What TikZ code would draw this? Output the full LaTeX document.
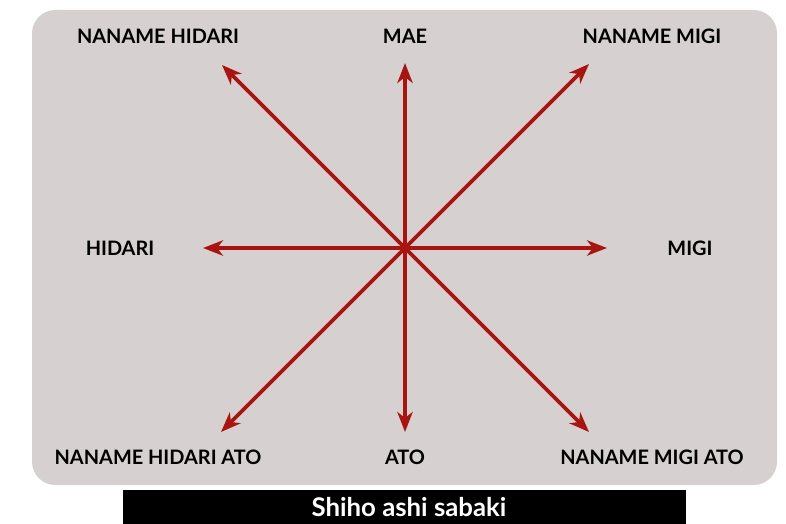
\documentclass[tikz,border=0pt]{standalone}
\usepackage{fontspec}
\setmainfont{Lato}
\usetikzlibrary{arrows.meta, positioning}
\definecolor{fond}{RGB}{214, 208, 208}
\definecolor{rouge}{RGB}{168, 20, 16}

\tikzset{
    label/.style={font=\bfseries\fontsize{17}{19}\selectfont, text=black},
    fleche/.style={rouge, line width=3.3pt, -{Stealth[length=17pt, width=13pt, inset=5pt]}}
}

\begin{document}
\begin{tikzpicture}[x=0.3mm, y=-0.3mm]
    % cadre de l'image
    \useasboundingbox (0,0) rectangle (786,524);
    \fill[fond, rounded corners=7mm] (32,10) rectangle (777,485);

    % bande noire du titre
    \fill[black] (123,490) rectangle (686,524);
    \node[font=\bfseries\fontsize{22}{24}\selectfont, text=white] (titre) at (409,507) {Shiho ashi sabaki};

    % centre
    \coordinate (c) at (405,248);

    % extremites des fleches
    \coordinate (mae) at (405,63);
    \coordinate (ato) at (405,432);
    \coordinate (hidari) at (203,248);
    \coordinate (migi) at (607,248);
    \coordinate (nh) at (222,65);
    \coordinate (nm) at (589,64);
    \coordinate (nha) at (221,432);
    \coordinate (nma) at (589,432);

    % les huit fleches
    \draw[fleche] (c) -- (mae);
    \draw[fleche] (c) -- (ato);
    \draw[fleche] (c) -- (hidari);
    \draw[fleche] (c) -- (migi);
    \draw[fleche] (c) -- (nh);
    \draw[fleche] (c) -- (nm);
    \draw[fleche] (c) -- (nha);
    \draw[fleche] (c) -- (nma);

    % textes
    \node[label] (tnh) at (158,36) {NANAME HIDARI};
    \node[label] (tmae) at (405,36) {MAE};
    \node[label] (tnm) at (652,36) {NANAME MIGI};
    \node[label] (thidari) at (120,248) {HIDARI};
    \node[label] (tmigi) at (690,248) {MIGI};
    \node[label] (tnha) at (158,457) {NANAME HIDARI ATO};
    \node[label] (tato) at (405,457) {ATO};
    \node[label] (tnma) at (652,457) {NANAME MIGI ATO};
\end{tikzpicture}
\end{document}
